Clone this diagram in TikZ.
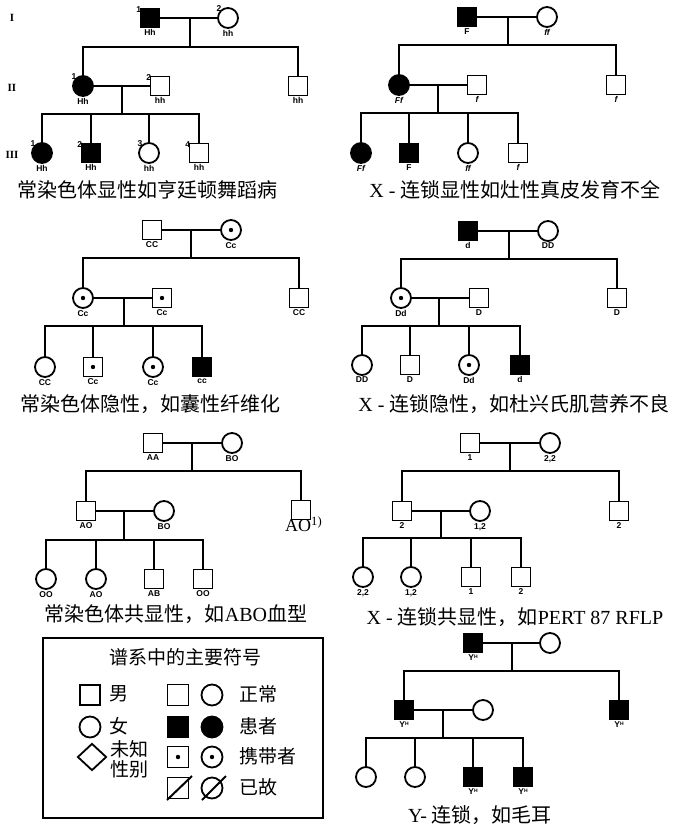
\documentclass[tikz,border=0pt]{standalone}
\usepackage{fontspec}
\setmainfont{Liberation Serif}
\newfontfamily\cjk{Noto Sans CJK SC}
\newfontfamily\gsans{Liberation Sans}
\usetikzlibrary{shapes.geometric}
\tikzset{
 sym/.style={draw, line width=1.8pt, inner sep=0pt, fill=white},
 male/.style={sym, rectangle, minimum size=19pt},
 female/.style={sym, circle, minimum size=20pt},
 aff/.style={fill=black},
 car/.style={path picture={\fill[black] (path picture bounding box.center) circle (2.2pt);}},
 gl/.style={font=\gsans\bfseries\fontsize{8.5}{8.5}\selectfont, inner sep=1pt},
 nl/.style={font=\gsans\bfseries\fontsize{8.5}{8.5}\selectfont, inner sep=0.5pt, label distance=-2.5pt},
 con/.style={line width=1.8pt},
 ttl/.style={font=\fontsize{20}{22}\selectfont, inner sep=0pt},
 rom/.style={font=\bfseries\fontsize{11}{11}\selectfont, inner sep=0pt},
 lsym/.style={sym, minimum size=21pt},
 ltxt/.style={font=\cjk\fontsize{19}{21}\selectfont, inner sep=0pt},
}
\newcommand\YH{Y{\fontsize{5}{5}\selectfont\raisebox{1.8pt}{H}}}
\begin{document}
\begin{tikzpicture}[x=1pt,y=-1pt]
\useasboundingbox (0,0) rectangle (679,826);

% ---------- roman numerals
\node[rom] (r1) at (12,18) {I};
\node[rom] (r2) at (12,88) {II};
\node[rom] (r3) at (12,155) {III};

% ---------- P1 autosomal dominant
\node[male,aff,label={[nl]150:1},label={[gl]below:Hh}] (a1) at (150,18) {};
\node[female,label={[nl]135:2},label={[gl]below:hh}] (a2) at (228,18) {};
\coordinate (a12m) at (190,18); \coordinate (a12s) at (190,47);
\draw[con] (a1.east) -- (a2.west); \draw[con] (a12m) -- (a12s);
\node[female,aff,label={[nl]135:1},label={[gl]below:Hh}] (a3) at (83,86) {};
\node[male,label={[nl]150:2},label={[gl]below:hh}] (a4) at (160,86) {};
\node[male,label={[gl]below:hh}] (a5) at (298,86) {};
\draw[con] (a12s) -| (a3.north); \draw[con] (a12s) -| (a5.north);
\coordinate (a34m) at (122,86); \coordinate (a34s) at (122,114);
\draw[con] (a3.east) -- (a4.west); \draw[con] (a34m) -- (a34s);
\node[female,aff,label={[nl]135:1},label={[gl]below:Hh}] (a6) at (42,153) {};
\node[male,aff,label={[nl]150:2},label={[gl]below:Hh}] (a7) at (91,153) {};
\node[female,label={[nl]135:3},label={[gl]below:hh}] (a8) at (149,153) {};
\node[male,label={[nl]150:4},label={[gl]below:hh}] (a9) at (199,153) {};
\foreach \c in {a6,a7,a8,a9} \draw[con] (a34s) -| (\c.north);
\node[ttl] (t1) at (147,190) {\cjk 常染色体显性如亨廷顿舞蹈病};

% ---------- P2 X-linked dominant
\node[male,aff,label={[gl]below:F}] (b1) at (467,17) {};
\node[female,label={[gl]below:\itshape ff}] (b2) at (547,17) {};
\coordinate (b12m) at (508,17); \coordinate (b12s) at (508,45);
\draw[con] (b1.east) -- (b2.west); \draw[con] (b12m) -- (b12s);
\node[female,aff,label={[gl]below:\itshape Ff}] (b3) at (399,85) {};
\node[male,label={[gl]below:\itshape f}] (b4) at (477,85) {};
\node[male,label={[gl]below:\itshape f}] (b5) at (616,85) {};
\draw[con] (b12s) -| (b3.north); \draw[con] (b12s) -| (b5.north);
\coordinate (b34m) at (438,85); \coordinate (b34s) at (438,113);
\draw[con] (b3.east) -- (b4.west); \draw[con] (b34m) -- (b34s);
\node[female,aff,label={[gl]below:\itshape Ff}] (b6) at (361,153) {};
\node[male,aff,label={[gl]below:F}] (b7) at (409,153) {};
\node[female,label={[gl]below:\itshape ff}] (b8) at (468,153) {};
\node[male,label={[gl]below:\itshape f}] (b9) at (518,153) {};
\foreach \c in {b6,b7,b8,b9} \draw[con] (b34s) -| (\c.north);
\node[ttl] (t2) at (515,190) {X - {\cjk 连锁显性如灶性真皮发育不全}};

% ---------- P3 autosomal recessive
\node[male,label={[gl]below:CC}] (c1) at (152,230) {};
\node[female,car,label={[gl]below:Cc}] (c2) at (231,230) {};
\coordinate (c12m) at (191,230); \coordinate (c12s) at (191,258);
\draw[con] (c1.east) -- (c2.west); \draw[con] (c12m) -- (c12s);
\node[female,car,label={[gl]below:Cc}] (c3) at (83,298) {};
\node[male,car,label={[gl]below:Cc}] (c4) at (162,298) {};
\node[male,label={[gl]below:CC}] (c5) at (299,298) {};
\draw[con] (c12s) -| (c3.north); \draw[con] (c12s) -| (c5.north);
\coordinate (c34m) at (124,298); \coordinate (c34s) at (124,326);
\draw[con] (c3.east) -- (c4.west); \draw[con] (c34m) -- (c34s);
\node[female,label={[gl]below:CC}] (c6) at (45,367) {};
\node[male,car,label={[gl]below:Cc}] (c7) at (93,367) {};
\node[female,car,label={[gl]below:Cc}] (c8) at (153,367) {};
\node[male,aff,label={[gl]below:cc}] (c9) at (202,367) {};
\foreach \c in {c6,c7,c8,c9} \draw[con] (c34s) -| (\c.north);
\node[ttl] (t3) at (150,404) {\cjk 常染色体隐性，如囊性纤维化};

% ---------- P4 X-linked recessive
\node[male,aff,label={[gl]below:d}] (d1) at (468,231) {};
\node[female,label={[gl]below:DD}] (d2) at (548,231) {};
\coordinate (d12m) at (509,231); \coordinate (d12s) at (509,259);
\draw[con] (d1.east) -- (d2.west); \draw[con] (d12m) -- (d12s);
\node[female,car,label={[gl]below:Dd}] (d3) at (401,298) {};
\node[male,label={[gl]below:D}] (d4) at (479,298) {};
\node[male,label={[gl]below:D}] (d5) at (617,298) {};
\draw[con] (d12s) -| (d3.north); \draw[con] (d12s) -| (d5.north);
\coordinate (d34m) at (439,298); \coordinate (d34s) at (439,326);
\draw[con] (d3.east) -- (d4.west); \draw[con] (d34m) -- (d34s);
\node[female,label={[gl]below:DD}] (d6) at (362,365) {};
\node[male,label={[gl]below:D}] (d7) at (410,365) {};
\node[female,car,label={[gl]below:Dd}] (d8) at (469,365) {};
\node[male,aff,label={[gl]below:d}] (d9) at (520,365) {};
\foreach \c in {d6,d7,d8,d9} \draw[con] (d34s) -| (\c.north);
\node[ttl] (t4) at (514,404) {X - {\cjk 连锁隐性，如杜兴氏肌营养不良}};

% ---------- P5 autosomal codominant
\node[male,label={[gl]below:AA}] (e1) at (153,443) {};
\node[female,label={[gl]below:BO}] (e2) at (232,443) {};
\coordinate (e12m) at (192,443); \coordinate (e12s) at (192,471);
\draw[con] (e1.east) -- (e2.west); \draw[con] (e12m) -- (e12s);
\node[male,label={[gl]below:AO}] (e3) at (86,511) {};
\node[female,label={[gl]below:BO}] (e4) at (164,511) {};
\node[male] (e5) at (301,510) {};
\node[font=\fontsize{18}{18}\selectfont, inner sep=0pt, anchor=west] (e5l) at (285,524) {AO\textsuperscript{1)}};
\draw[con] (e12s) -| (e3.north); \draw[con] (e12s) -| (e5.north);
\coordinate (e34m) at (124,511); \coordinate (e34s) at (124,540);
\draw[con] (e3.east) -- (e4.west); \draw[con] (e34m) -- (e34s);
\node[female,label={[gl]below:OO}] (e6) at (46,579) {};
\node[female,label={[gl]below:AO}] (e7) at (96,579) {};
\node[male,label={[gl]below:AB}] (e8) at (154,579) {};
\node[male,label={[gl]below:OO}] (e9) at (203,579) {};
\foreach \c in {e6,e7,e8,e9} \draw[con] (e34s) -| (\c.north);
\node[ttl] (t5) at (176,614) {{\cjk 常染色体共显性，如}ABO{\cjk 血型}};

% ---------- P6 X-linked codominant
\node[male,label={[gl]below:1}] (f1) at (470,443) {};
\node[female,label={[gl]below:2,2}] (f2) at (550,443) {};
\coordinate (f12m) at (510,443); \coordinate (f12s) at (510,471);
\draw[con] (f1.east) -- (f2.west); \draw[con] (f12m) -- (f12s);
\node[male,label={[gl]below:2}] (f3) at (402,511) {};
\node[female,label={[gl]below:1,2}] (f4) at (480,511) {};
\node[male,label={[gl]below:2}] (f5) at (619,511) {};
\draw[con] (f12s) -| (f3.north); \draw[con] (f12s) -| (f5.north);
\coordinate (f34m) at (441,511); \coordinate (f34s) at (441,538);
\draw[con] (f3.east) -- (f4.west); \draw[con] (f34m) -- (f34s);
\node[female,label={[gl]below:2,2}] (f6) at (363,577) {};
\node[female,label={[gl]below:1,2}] (f7) at (411,577) {};
\node[male,label={[gl]below:1}] (f8) at (471,577) {};
\node[male,label={[gl]below:2}] (f9) at (521,577) {};
\foreach \c in {f6,f7,f8,f9} \draw[con] (f34s) -| (\c.north);
\node[ttl] (t6) at (515,617) {X - {\cjk 连锁共显性，如}PERT 87 RFLP};

% ---------- P7 Y-linked
\node[male,aff,label={[gl]below:\YH}] (g1) at (473,643) {};
\node[female] (g2) at (550,643) {};
\coordinate (g12m) at (512,643); \coordinate (g12s) at (512,671);
\draw[con] (g1.east) -- (g2.west); \draw[con] (g12m) -- (g12s);
\node[male,aff,label={[gl]below:\YH}] (g3) at (404,710) {};
\node[female] (g4) at (483,710) {};
\node[male,aff,label={[gl]below:\YH}] (g5) at (619,710) {};
\draw[con] (g12s) -| (g3.north); \draw[con] (g12s) -| (g5.north);
\coordinate (g34m) at (443,710); \coordinate (g34s) at (443,738);
\draw[con] (g3.east) -- (g4.west); \draw[con] (g34m) -- (g34s);
\node[female] (g6) at (366,777) {};
\node[female] (g7) at (415,777) {};
\node[male,aff,label={[gl]below:\YH}] (g8) at (473,777) {};
\node[male,aff,label={[gl]below:\YH}] (g9) at (523,777) {};
\foreach \c in {g6,g7,g8,g9} \draw[con] (g34s) -| (\c.north);
\node[ttl] (t7) at (480,815) {Y- {\cjk 连锁，如毛耳}};

% ---------- legend
\node[draw, line width=1.6pt, minimum width=280pt, minimum height=180pt, inner sep=0pt] (box) at (183,728) {};
\node[ltxt] (lt) at (185,657) {谱系中的主要符号};
\node[lsym,rectangle,minimum size=20pt] (lm) at (90,695) {};
\node[ltxt,anchor=west] (lmt) at (109,694) {男};
\node[lsym,circle] (lf) at (90,727) {};
\node[ltxt,anchor=west] (lft) at (109,726) {女};
\node[sym,diamond,minimum width=29pt,minimum height=27pt,aspect=1] (lu) at (92,757) {};
\node[ltxt,anchor=west] (lut1) at (110,749) {未知};
\node[ltxt,anchor=west] (lut2) at (110,769) {性别};
\node[lsym,rectangle] (ln1) at (178,695) {};
\node[lsym,circle] (ln2) at (212,695) {};
\node[ltxt,anchor=west] (lnt) at (239,694) {正常};
\node[lsym,rectangle,aff] (la1) at (178,727) {};
\node[lsym,circle,aff] (la2) at (212,727) {};
\node[ltxt,anchor=west] (lat) at (239,726) {患者};
\node[lsym,rectangle,car] (lc1) at (178,757) {};
\node[lsym,circle,car] (lc2) at (212,757) {};
\node[ltxt,anchor=west] (lct) at (239,756) {携带者};
\node[lsym,rectangle] (ld1) at (178,788) {};
\node[lsym,circle] (ld2) at (212,788) {};
\node[ltxt,anchor=west] (ldt) at (239,787) {已故};
\draw[line width=2pt] ([shift={(-11pt,-12pt)}]ld1.center) -- ([shift={(14pt,12pt)}]ld1.center);
\draw[line width=2pt] ([shift={(-10pt,-12pt)}]ld2.center) -- ([shift={(14pt,12pt)}]ld2.center);
\end{tikzpicture}
\end{document}
